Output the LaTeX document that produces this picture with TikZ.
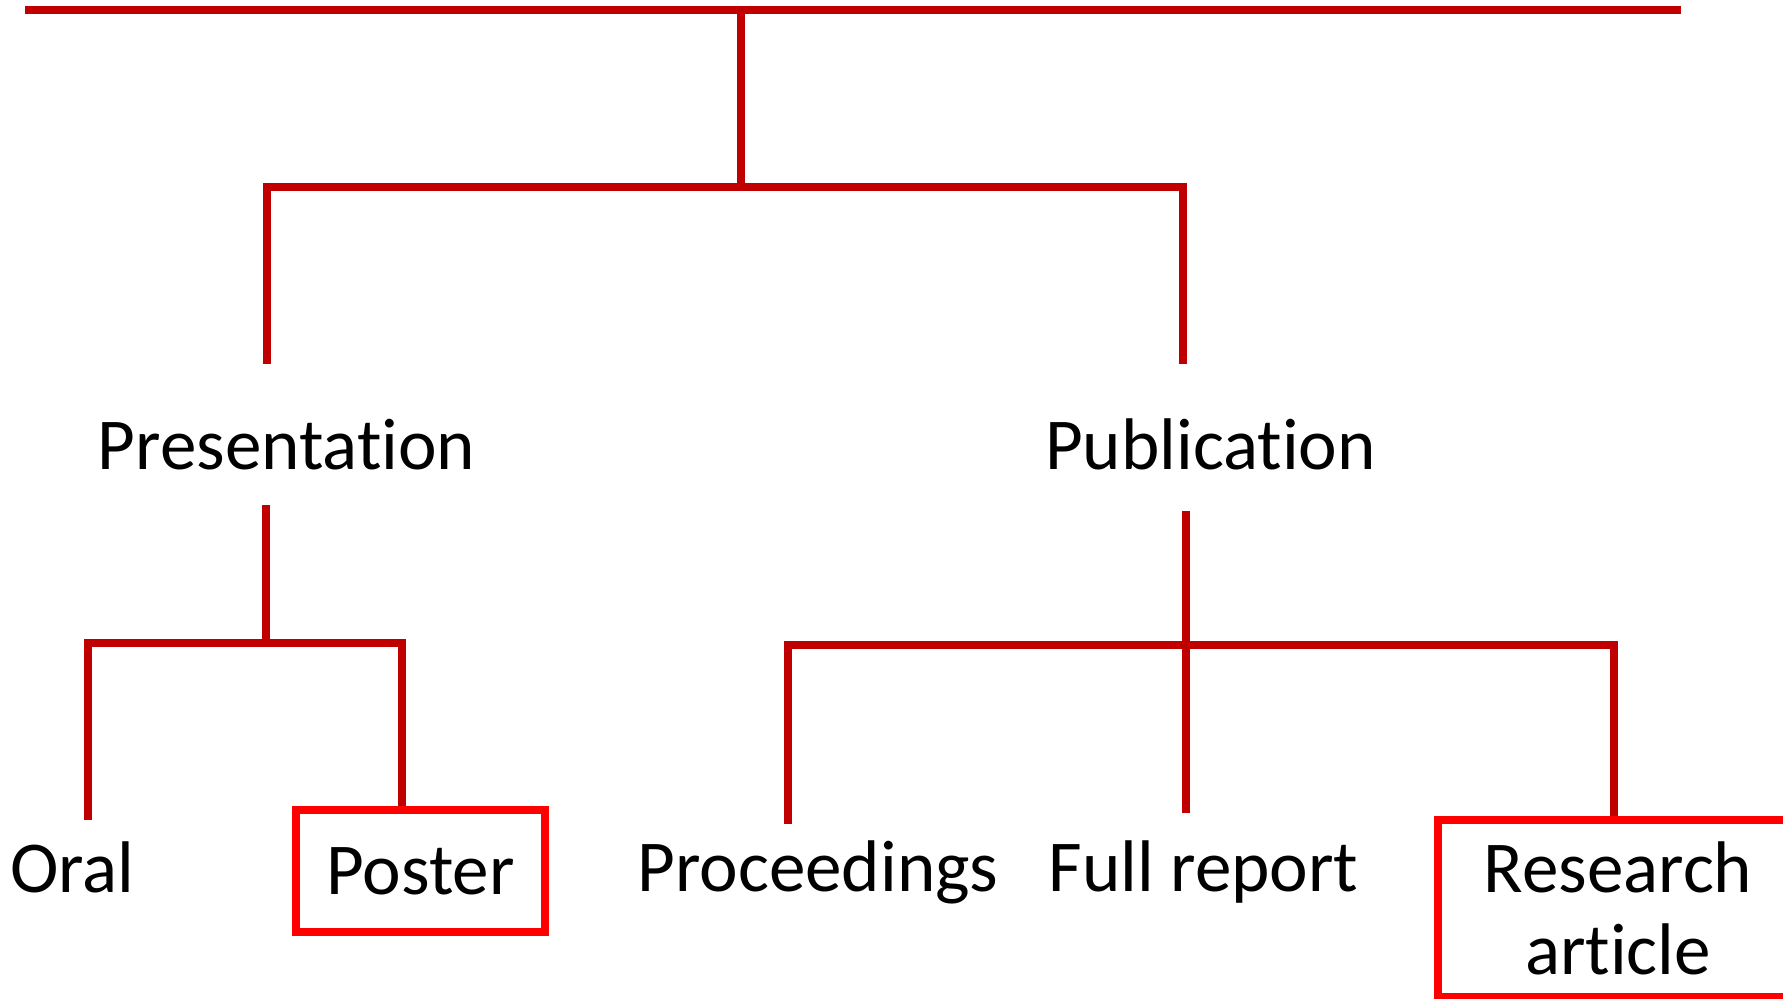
\documentclass[tikz,border=0pt]{standalone}
\usepackage{fontspec}
\setmainfont{Carlito}[Ligatures=NoCommon]
\usetikzlibrary{positioning}
\definecolor{darkred}{HTML}{C00000}
\definecolor{brightred}{HTML}{FF0000}
\tikzstyle{branch} = [draw, darkred, line width=0.08cm]
\tikzstyle{leaf} = [inner sep=0pt, anchor=base, font=\fontsize{20.8}{23.3}\selectfont]
\tikzstyle{choice} = [rectangle, draw=brightred, line width=0.08cm, inner sep=0pt, align=center, font=\fontsize{20.8}{23.3}\selectfont]

\begin{document}
\begin{tikzpicture}
        \useasboundingbox (0,0) rectangle (17.83,-9.98);

        % top level
        \coordinate (rootL) at (0.25,-0.10);
        \coordinate (rootR) at (16.81,-0.10);
        \coordinate (root) at (7.41,-0.10);
        \coordinate (split) at (7.41,-1.87);

        \node [leaf] (pres) at (2.865,-4.69) {Presentation};
        \node [leaf] (pub) at (12.105,-4.69) {Publication};
        \coordinate (presUp) at (2.67,-3.64);
        \coordinate (pubUp) at (11.83,-3.64);

        \path [branch] (rootL) -- (rootR);
        \path [branch] (root) -- (split);
        \path [branch] (presUp) |- (split) -| (pubUp);

        % presentation
        \coordinate (presDown) at (2.66,-5.05);
        \coordinate (presSplit) at (2.66,-6.43);
        \node [leaf] (oral) at (0.725,-8.92) {Oral};
        \node [choice, minimum width=2.49cm, minimum height=1.22cm] (poster) at (4.205,-8.71) {Poster};
        \coordinate (oralUp) at (0.88,-8.20);

        \path [branch] (presDown) -- (presSplit);
        \path [branch] (oralUp) |- (presSplit) -| ([xshift=-1.85mm]poster.north);

        % publication
        \coordinate (pubDown) at (11.86,-5.11);
        \coordinate (pubSplit) at (11.86,-6.45);
        \node [leaf] (proc) at (8.18,-8.91) {Proceedings};
        \node [leaf] (full) at (12.035,-8.91) {Full report};
        \node [choice, minimum width=3.60cm, minimum height=1.77cm] (article) at (16.18,-9.085) {Research\\article};
        \coordinate (procUp) at (7.88,-8.24);
        \coordinate (fullUp) at (11.86,-8.13);

        \path [branch] (pubDown) -- (fullUp);
        \path [branch] (procUp) |- (pubSplit) -| ([xshift=-0.4mm]article.north);
\end{tikzpicture}
\end{document}
